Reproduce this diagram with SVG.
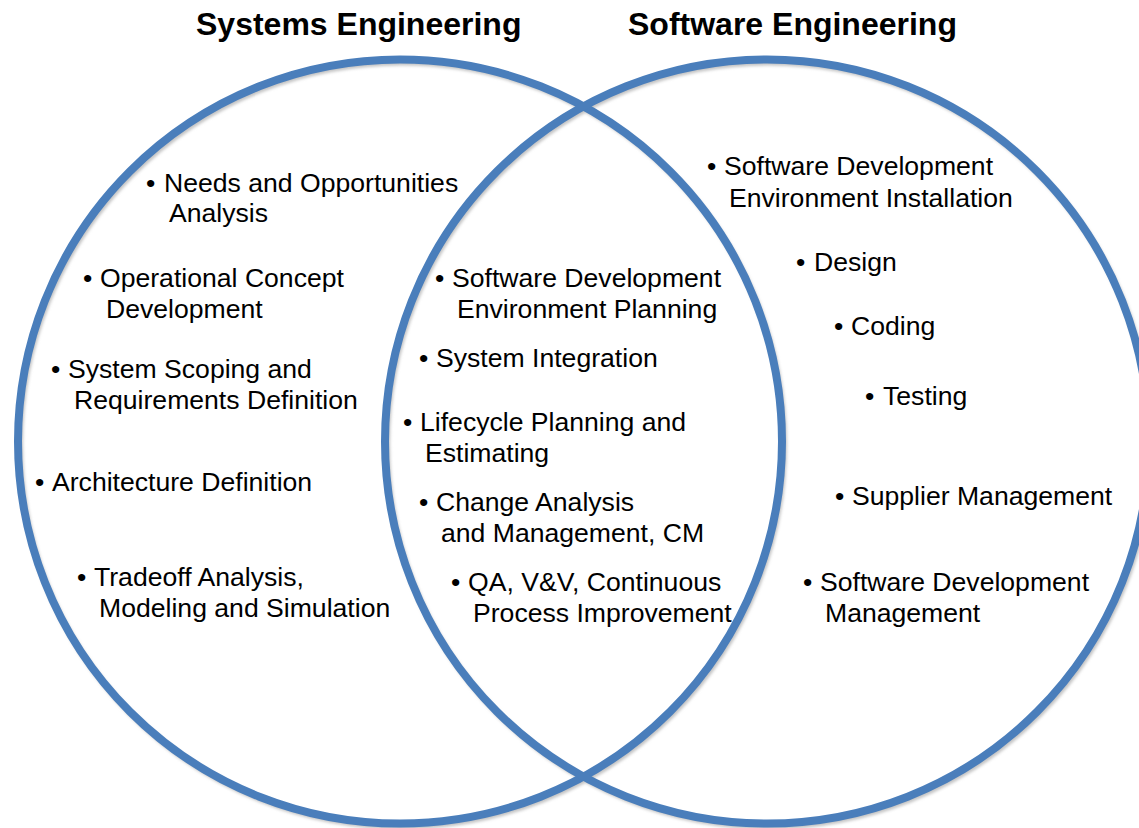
<svg xmlns="http://www.w3.org/2000/svg" width="1139" height="828" viewBox="0 0 1139 828">
<style>
.title{font-family:"Liberation Sans",Arial,sans-serif;font-weight:bold;font-size:32px;fill:#000}
.item{font-family:"Liberation Sans",Arial,sans-serif;font-size:26.6px;fill:#000}
.ring{fill:none;stroke:#4A7EBB;stroke-width:8}
.shadow{fill:none;stroke:#c4c4c4;stroke-width:6}
</style>
<defs>
<filter id="blur" x="-5%" y="-5%" width="110%" height="110%"><feGaussianBlur stdDeviation="1.5"/></filter>
</defs>
<rect x="0" y="0" width="1139" height="828" fill="#fff"/>
<g id="shadows" filter="url(#blur)">
<circle class="shadow" cx="402" cy="444.5" r="382"/>
<circle class="shadow" cx="769" cy="444.5" r="382"/>
</g>
<g id="systems-engineering">
<circle class="ring" cx="400" cy="441.5" r="382"/>
<text class="title" x="196" y="35">Systems Engineering</text>
</g>
<g id="software-engineering">
<circle class="ring" cx="767" cy="441.5" r="382"/>
<text class="title" x="628" y="35">Software Engineering</text>
</g>
<g id="connectors"></g>
<g id="left-items">
<text class="item" x="146" y="192"><tspan>•</tspan><tspan x="164">Needs and Opportunities</tspan></text>
<text class="item" x="169" y="222">Analysis</text>
<text class="item" x="83" y="287"><tspan>•</tspan><tspan x="100">Operational Concept</tspan></text>
<text class="item" x="106" y="318">Development</text>
<text class="item" x="51" y="378"><tspan>•</tspan><tspan x="68">System Scoping and</tspan></text>
<text class="item" x="74" y="409">Requirements Definition</text>
<text class="item" x="35" y="491"><tspan>•</tspan><tspan x="52">Architecture Definition</tspan></text>
<text class="item" x="77" y="586"><tspan>•</tspan><tspan x="94">Tradeoff Analysis,</tspan></text>
<text class="item" x="99" y="617">Modeling and Simulation</text>
</g>
<g id="middle-items">
<text class="item" x="435" y="287"><tspan>•</tspan><tspan x="452">Software Development</tspan></text>
<text class="item" x="457" y="318">Environment Planning</text>
<text class="item" x="419" y="367"><tspan>•</tspan><tspan x="436">System Integration</tspan></text>
<text class="item" x="403" y="431"><tspan>•</tspan><tspan x="420">Lifecycle Planning and</tspan></text>
<text class="item" x="425" y="462">Estimating</text>
<text class="item" x="419" y="511"><tspan>•</tspan><tspan x="436">Change Analysis</tspan></text>
<text class="item" x="441" y="542">and Management, CM</text>
<text class="item" x="451" y="591"><tspan>•</tspan><tspan x="468">QA, V&amp;V, Continuous</tspan></text>
<text class="item" x="473" y="622">Process Improvement</text>
</g>
<g id="right-items">
<text class="item" x="707" y="175"><tspan>•</tspan><tspan x="724">Software Development</tspan></text>
<text class="item" x="729" y="207">Environment Installation</text>
<text class="item" x="796" y="271"><tspan>•</tspan><tspan x="814">Design</tspan></text>
<text class="item" x="834" y="335"><tspan>•</tspan><tspan x="851">Coding</tspan></text>
<text class="item" x="865" y="405"><tspan>•</tspan><tspan x="883">Testing</tspan></text>
<text class="item" x="835" y="505"><tspan>•</tspan><tspan x="852">Supplier Management</tspan></text>
<text class="item" x="803" y="591"><tspan>•</tspan><tspan x="820">Software Development</tspan></text>
<text class="item" x="825" y="622">Management</text>
</g>
</svg>
